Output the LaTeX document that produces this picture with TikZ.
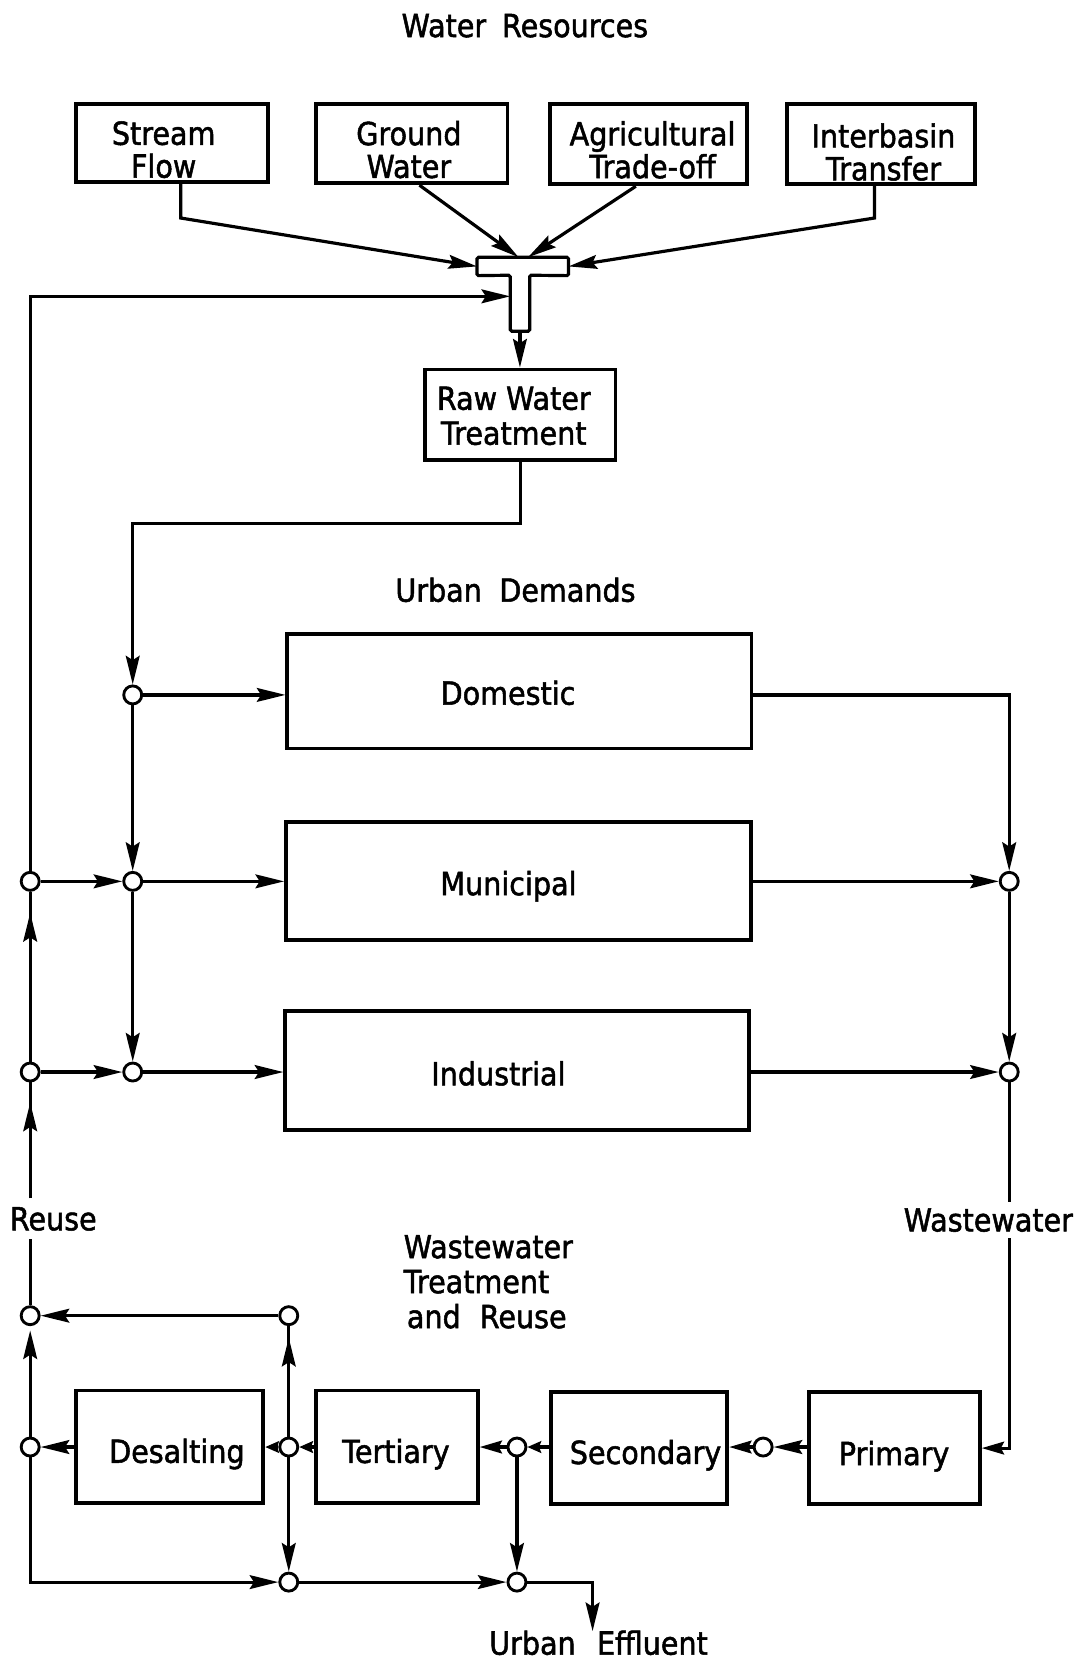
\documentclass[tikz,border=0pt]{standalone}
\usepackage{fontspec}
\setmainfont{DejaVu Sans}[FakeStretch=0.9,FakeBold=1.6]
\usetikzlibrary{arrows.meta,decorations.markings,calc}
\tikzset{
  box/.style={draw, line width=3.6pt, rectangle, inner sep=0pt},
  txt/.style={font=\fontsize{30}{31}\selectfont, inner sep=0pt, text height=22pt, text depth=0pt},
  txtm/.style={font=\fontsize{30}{31}\selectfont, inner sep=0pt, align=center},
  jn/.style={circle, draw, fill=white, line width=2.7pt, minimum size=17pt, inner sep=0pt},
  conn/.style={line width=3pt},
  arr/.style={-{Stealth[length=27pt,width=13pt,inset=4pt]}},
  arrM/.style={-{Stealth[length=21pt,width=12pt,inset=3pt]}},
  arrS/.style={-{Stealth[length=13pt,width=11pt,inset=2pt]}},
  midarr/.style={postaction={decorate},decoration={markings,mark=at position #1 with {\arrow{Stealth[length=27pt,width=13pt,inset=4pt]}}}},
}
\begin{document}
\begin{tikzpicture}[x=1pt,y=-1pt]
\useasboundingbox (0,0) rectangle (1016,1568);

% titles
\node[txt] (twr) at (495.5,24) {Water\hspace{0.5em}Resources};
\node[txt] (tud) at (486.6,557) {Urban\hspace{0.55em}Demands};
\node[txtm, font=\fontsize{30}{33}\selectfont, align=left] (twtr) at (461,1210) {Wastewater\\Treatment\\\hspace*{3pt}and\hspace{0.6em}Reuse};

% water sources
\node[box, minimum width=181.7pt, minimum height=74pt] (sf) at (162.25,135) {};
\node[txtm] (sft) at (154.5,141.3) {Stream\\Flow};
\node[box, minimum width=180.5pt, minimum height=75pt] (gw) at (388.75,135.5) {};
\node[txtm] (gwt) at (386,141.3) {Ground\\Water};
\node[box, minimum width=186.5pt, minimum height=76pt] (ag) at (612.25,136) {};
\node[txtm] (agt) at (616,141.5) {Agricultural\\Trade-off};
\node[box, minimum width=177.3pt, minimum height=76pt] (ib) at (831.65,136) {};
\node[txtm] (ibt) at (834,143.5) {Interbasin\\Transfer};

% T junction
\node[minimum width=86pt, minimum height=17pt, inner sep=0pt] (tbar) at (493.5,251.5) {};
\node[minimum width=18pt, minimum height=52.5pt, inner sep=0pt] (tstem) at (490.8,286.25) {};
\draw[line width=3pt, rounded corners=1.5pt] (tbar.north west) -- (tbar.north east) -- (tbar.south east) -- (tstem.north east) -- (tstem.south east) -- (tstem.south west) -- (tstem.north west) -- (tbar.south west) -- cycle;

% raw water treatment
\node[box, minimum width=180pt, minimum height=85.6pt] (raw) at (491,391.6) {};
\node[txtm, font=\fontsize{30}{33}\selectfont] (rawt) at (485,392.6) {Raw Water\\Treatment};

% urban demands
\node[box, minimum width=438.1pt, minimum height=107.9pt] (dom) at (490.35,652.65) {};
\node[txt] (domt) at (479.6,654.2) {Domestic};
\node[box, minimum width=439pt, minimum height=111.6pt] (mun) at (489.5,831.8) {};
\node[txt] (munt) at (480,834) {Municipal};
\node[box, minimum width=438.1pt, minimum height=112pt] (ind) at (488.35,1010.4) {};
\node[txt] (indt) at (470.5,1013.5) {Industrial};

% junctions (urban)
\node[jn] (cD) at (125.3,656) {};
\node[jn] (cM) at (125.3,832) {};
\node[jn] (cI) at (125.3,1012) {};
\node[jn] (L1) at (28.5,832) {};
\node[jn] (L2) at (28.5,1012) {};
\node[jn] (R1) at (952.7,832) {};
\node[jn] (R2) at (952.7,1012) {};

% side labels
\node[txt, inner ysep=8pt] (reuse) at (50.3,1150.4) {Reuse};
\node[txt, inner ysep=6pt] (ww) at (933,1151.5) {Wastewater};

% treatment boxes
\node[box, minimum width=177.2pt, minimum height=106.4pt] (desal) at (160,1365.8) {};
\node[txt] (desalt) at (167,1369.9) {Desalting};
\node[box, minimum width=152.5pt, minimum height=106.4pt] (tert) at (374.75,1365.8) {};
\node[txt] (tertt) at (373.8,1370) {Tertiary};
\node[box, minimum width=166.1pt, minimum height=105.6pt] (sec) at (603.55,1366.8) {};
\node[txt] (sect) at (609.4,1371) {Secondary};
\node[box, minimum width=161pt, minimum height=106pt] (prim) at (844.5,1367) {};
\node[txt] (primt) at (844,1372) {Primary};
\node[txt] (eff) at (565,1551) {Urban\hspace{0.67em}Effluent};

% junctions (treatment)
\node[jn] (B1) at (28.5,1242) {};
\node[jn] (B2) at (272.6,1242) {};
\node[jn] (B3) at (28.5,1366) {};
\node[jn] (B4) at (272.6,1366) {};
\node[jn] (B5) at (488,1366) {};
\node[jn] (B6) at (720.4,1366) {};
\node[jn] (B7) at (272.6,1493.5) {};
\node[jn] (B8) at (488,1493.5) {};

% connectors: sources to T
\draw[conn,arr] ([xshift=8.3pt]sf.south) -- ++(0,32) -- (tbar.west);
\draw[conn,arr] ([xshift=7.2pt]gw.south) -- ([xshift=-4pt]tbar.north);
\draw[conn,arr] ([xshift=-12pt]ag.south) -- ([xshift=5pt]tbar.north);
\draw[conn,arr] ([xshift=-6.1pt]ib.south) -- ++(0,30) -- (tbar.east);
\draw[conn,arr] (tstem.south) -- (tstem.south |- raw.north);

% raw water to urban demands
\draw[conn,arr] (raw.south) -- ++(0,58) -| (cD.north);
\draw[conn,arr] (cD.east) -- (dom.west |- cD);
\draw[conn,arr] (cD.south) -- (cM.north);
\draw[conn,arr] (cM.east) -- (mun.west |- cM);
\draw[conn,arr] (cM.south) -- (cI.north);
\draw[conn,arr] (cI.east) -- (ind.west |- cI);
\draw[conn,arr] (L1.east) -- (cM.west);
\draw[conn,arr] (L2.east) -- (cI.west);
\draw[conn,midarr=-20pt] (L2.north) -- (L1.south);
\draw[conn,midarr=-19pt] (L2 |- reuse.north) -- (L2.south);
\draw[conn,arr] (L1.north) |- ([yshift=6.5pt]tstem.west);

% wastewater collection
\draw[conn,arr] (dom.east |- cD) -| (R1.north);
\draw[conn,arr] (mun.east |- R1) -- (R1.west);
\draw[conn,arr] (R1.south) -- (R2.north);
\draw[conn,arr] (ind.east |- R2) -- (R2.west);
\draw[conn] (R2.south) -- (R2 |- ww.north);
\draw[conn,arrM] (ww.south -| R2) |- (prim.east);

% treatment chain
\draw[conn,arr] (prim.west |- B6) -- (B6.east);
\draw[conn,arrM] (B6.west) -- (sec.east |- B6);
\draw[conn,arrS] (sec.west |- B5) -- (B5.east);
\draw[conn,arrM] (B5.west) -- (tert.east |- B5);
\draw[conn,arrS] (tert.west |- B4) -- (B4.east);
\draw[conn,arrS] (B4.west) -- (desal.east |- B4);
\draw[conn,arr] (desal.west |- B3) -- (B3.east);

% reuse and effluent
\draw[conn,arr,shorten >=4pt] (B3.north) -- (B1.south);
\draw[conn] (B1.north) -- (B1 |- reuse.south);
\draw[conn,arr] (B2.west) -- (B1.east);
\draw[conn,midarr=-11pt] (B4.north) -- (B2.south);
\draw[conn,arr] (B4.south) -- (B7.north);
\draw[conn,arr] (B5.south) -- (B8.north);
\draw[conn,arr] (B3.south) |- (B7.west);
\draw[conn,arr] (B7.east) -- (B8.west);
\draw[conn,arr] (B8.east) -| ([xshift=-5.6pt]eff.north);
\end{tikzpicture}
\end{document}
